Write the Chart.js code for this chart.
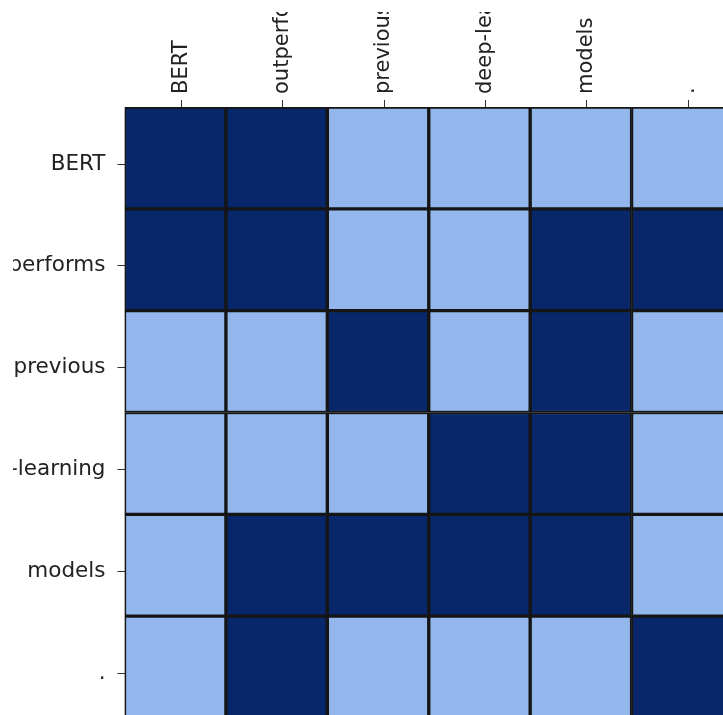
<!DOCTYPE html>
<html>
<head>
<meta charset="utf-8">
<script src="https://cdn.jsdelivr.net/npm/chart.js@4.4.0/dist/chart.umd.min.js"></script>
<style>
  html, body { margin: 0; padding: 0; background: #fff; overflow: hidden; width: 723px; height: 715px; }
  #clip { position: absolute; left: 13px; top: 12px; right: 0; bottom: 0; overflow: hidden; }
  #wrap { position: absolute; left: -113px; top: -112px; width: 960px; height: 960px; }
</style>
</head>
<body>
<div id="clip"><div id="wrap"><canvas id="myChart"></canvas></div></div>
<script>
var tokens = ["BERT", "outperforms", "previous", "deep-learning", "models", "."];
// 1 = attends, 0 = does not (one row per query token)
var rowBERT = [1, 1, 0, 0, 0, 0];
var rowOutperforms = [1, 1, 0, 0, 1, 1];
var rowPrevious = [0, 0, 1, 0, 1, 0];
var rowDeepLearning = [0, 0, 0, 1, 1, 0];
var rowModels = [0, 1, 1, 1, 1, 0];
var rowDot = [0, 1, 0, 0, 0, 1];
var rows = [rowBERT, rowOutperforms, rowPrevious, rowDeepLearning, rowModels, rowDot];

var onColor = "#08276a";
var offColor = "#93b7ec";
var tickShift = 0.06;

var datasets = rows.map(function (row, r) {
  return {
    label: tokens[r],
    data: row.map(function () { return [r, r + 1]; }),
    backgroundColor: row.map(function (v) { return v ? onColor : offColor; }),
    borderColor: "#151515",
    borderWidth: 2,
    borderSkipped: false,
    grouped: false,
    barPercentage: 1,
    categoryPercentage: 1
  };
});

function tokenTicks(axis) {
  axis.ticks = tokens.map(function (t, i) { return { value: i + 0.5 + tickShift }; });
}

new Chart("myChart", {
  type: "bar",
  data: { labels: tokens, datasets: datasets },
  options: {
    responsive: true,
    maintainAspectRatio: false,
    animation: false,
    layout: { padding: { right: 127, bottom: 142, left: 0, top: 0 } },
    plugins: { legend: { display: false }, tooltip: { enabled: false } },
    scales: {
      x: { type: "category", display: false, offset: true },
      y: { type: "linear", display: false, reverse: true, min: 0, max: 6 },
      xt: {
        type: "linear",
        position: "top",
        min: 0,
        max: 6,
        offset: false,
        afterBuildTicks: tokenTicks,
        afterFit: function (axis) { axis.height = 207; },
        grid: { offset: false, drawOnChartArea: false, drawTicks: true, tickLength: 7, color: "#333", lineWidth: 1 },
        border: { display: false },
        ticks: {
          autoSkip: false,
          minRotation: 90,
          maxRotation: 90,
          padding: 6,
          labelOffset: 25,
          color: "#222",
          font: { family: "DejaVu Sans", size: 21 },
          callback: function (v, i) { return tokens[i]; }
        }
      },
      yl: {
        type: "linear",
        position: "left",
        reverse: true,
        min: 0,
        max: 6,
        offset: false,
        afterBuildTicks: tokenTicks,
        afterFit: function (axis) { axis.width = 224.5; },
        grid: { offset: false, drawOnChartArea: false, drawTicks: true, tickLength: 7, color: "#333", lineWidth: 1 },
        border: { display: false },
        ticks: {
          autoSkip: false,
          padding: 12,
          color: "#222",
          font: { family: "DejaVu Sans", size: 21.5 },
          callback: function (v, i) { return tokens[i]; }
        }
      }
    }
  }
});
</script>
</body>
</html>
